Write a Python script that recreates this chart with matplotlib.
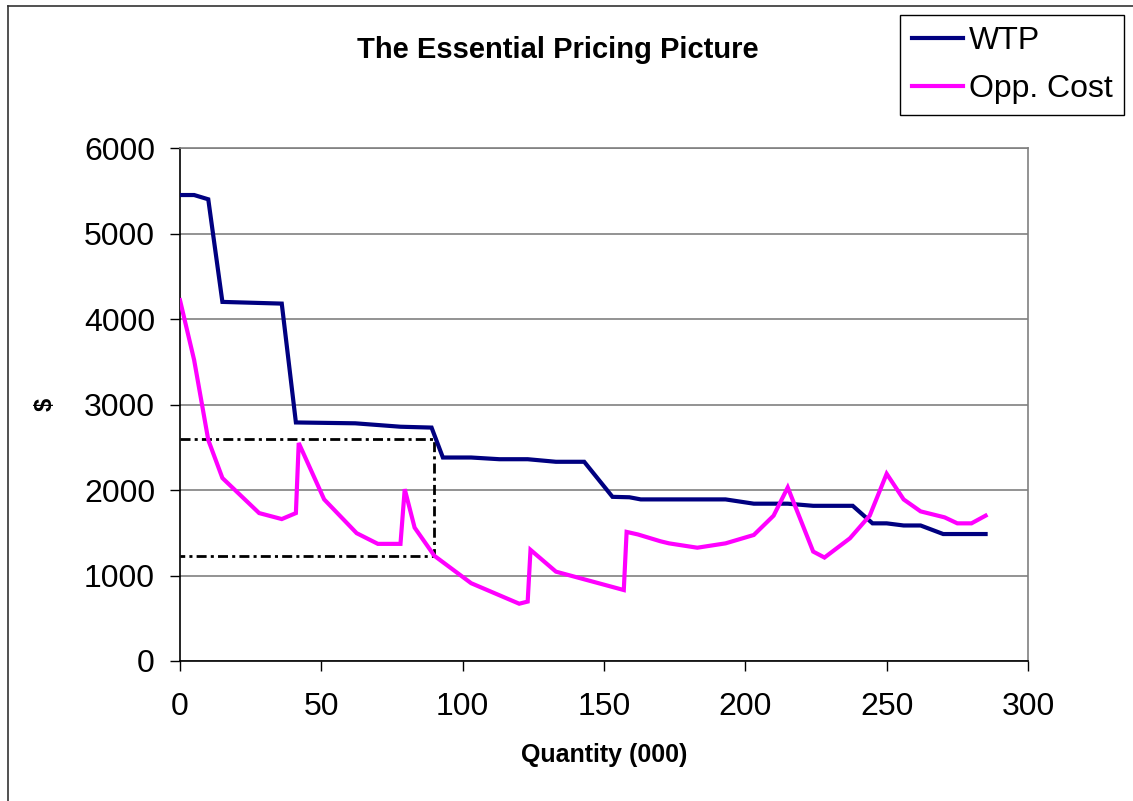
import matplotlib.pyplot as plt
from matplotlib.lines import Line2D

# data
wtp_q = [0, 5, 10, 15, 36, 41, 62, 78, 89, 93, 103, 113, 123, 133, 143, 153, 159, 163,
         193, 203, 215, 224, 238, 245, 250, 256, 262, 270, 285]
wtp = [5450, 5450, 5400, 4200, 4180, 2790, 2780, 2740, 2730, 2380, 2380, 2360, 2360, 2330,
       2330, 1920, 1915, 1890, 1890, 1840, 1840, 1815, 1815, 1610, 1610, 1585, 1585, 1485, 1485]

opp_q = [0, 5, 10, 15, 28, 36, 41, 42, 51, 62.5, 70, 78, 79.5, 83, 90, 103, 120, 123, 124,
         133, 157, 158, 162, 170, 173, 183, 193, 203, 210, 215, 224, 228, 237, 244, 250,
         256, 262, 270.5, 275, 280, 285]
opp_cost = [4220, 3520, 2585, 2140, 1730, 1660, 1730, 2550, 1890, 1495, 1370, 1370, 2010,
            1560, 1230, 910, 670, 695, 1300, 1045, 830, 1510, 1480, 1400, 1376, 1325, 1376,
            1474, 1700, 2030, 1280, 1210, 1435, 1700, 2190, 1890, 1750, 1680, 1610, 1610, 1700]

# dash-dot guide box
guide_q = 90
guide_price = 2600
guide_cost = 1230

plt.rcParams['font.family'] = ['Liberation Sans', 'DejaVu Sans']

W, H = 1133, 801
fig = plt.figure(figsize=(W / 100, H / 100), dpi=100)
ax = fig.add_axes([180 / W, 1 - 661 / H, 848 / W, 513 / H])

ax.plot(wtp_q, wtp, color='#000080', lw=3, label='WTP', solid_joinstyle='miter', zorder=3)
ax.plot(opp_q, opp_cost, color='#FF00FF', lw=3, label='Opp. Cost', solid_joinstyle='miter', zorder=3)
ax.plot([0, guide_q, guide_q, 0], [guide_price, guide_price, guide_cost, guide_cost],
        color='black', lw=2, linestyle=(0, (3.6, 1.5, 1.1, 1.5)), zorder=2)

ax.set_xlim(0, 300)
ax.set_ylim(0, 6000)
ax.set_xticks(range(0, 301, 50))
ax.set_yticks(range(0, 6001, 1000))
ax.yaxis.grid(True, color='#808080', lw=1.2)
ax.set_axisbelow(True)

ax.tick_params(axis='x', direction='out', length=7, width=1, pad=15, labelsize=23)
ax.tick_params(axis='y', direction='out', length=7, width=1, pad=11, labelsize=23)

for side in ['top', 'right']:
    ax.spines[side].set_color('#808080')
    ax.spines[side].set_linewidth(1.2)
for side in ['left', 'bottom']:
    ax.spines[side].set_color('black')
    ax.spines[side].set_linewidth(1.2)

ax.set_xlabel('Quantity (000)', fontsize=18, fontweight='bold')
ax.xaxis.set_label_coords(0.5, -0.16)
ax.set_ylabel('$', fontsize=17, fontweight='bold')
ax.yaxis.set_label_coords(-0.145, 0.5)

fig.text(558 / W, 1 - 50 / H, 'The Essential Pricing Picture', fontsize=21,
         fontweight='bold', ha='center', va='center')

leg = ax.legend(loc='upper right', bbox_to_anchor=(1124 / W, 1 - 15 / H),
                bbox_transform=fig.transFigure, borderaxespad=0, fontsize=23,
                fancybox=False, framealpha=1, edgecolor='black', borderpad=0.35,
                labelspacing=0.55, handlelength=1.6, handletextpad=0.2)
leg.get_frame().set_linewidth(1)

# outer chart frame (top and left edges visible)
fig.add_artist(Line2D([8 / W, 1], [1 - 6 / H, 1 - 6 / H], color='#333333', lw=1.2))
fig.add_artist(Line2D([8 / W, 8 / W], [0, 1 - 6 / H], color='#333333', lw=1.2))

fig.savefig('out.png', dpi=100)
